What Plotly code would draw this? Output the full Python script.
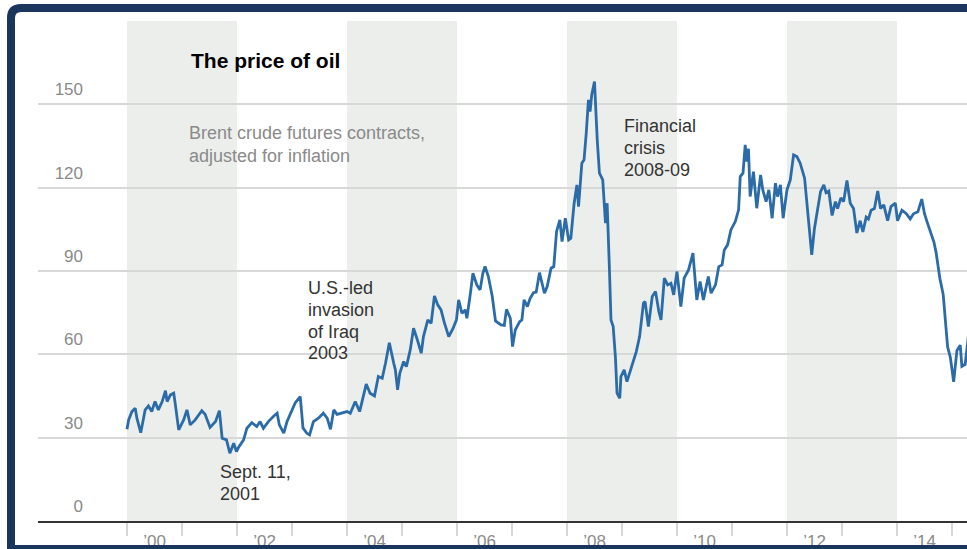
import plotly.graph_objects as go

# ---------------- data ----------------
years = [
    2000.00, 2000.03, 2000.09, 2000.15, 2000.18, 2000.25, 2000.33, 2000.39, 2000.45, 2000.51,
    2000.57, 2000.64, 2000.70, 2000.73, 2000.79, 2000.85, 2000.88, 2000.94, 2001.03, 2001.09,
    2001.15, 2001.24, 2001.36, 2001.42, 2001.51, 2001.61, 2001.68, 2001.73, 2001.81, 2001.87,
    2001.94, 2001.99, 2002.03, 2002.12, 2002.18, 2002.27, 2002.36, 2002.42, 2002.48, 2002.57,
    2002.67, 2002.73, 2002.77, 2002.85, 2002.91, 2003.00, 2003.06, 2003.15, 2003.20, 2003.27,
    2003.32, 2003.39, 2003.48, 2003.57, 2003.64, 2003.70, 2003.76, 2003.82, 2003.91, 2004.00,
    2004.06, 2004.15, 2004.23, 2004.27, 2004.35, 2004.42, 2004.50, 2004.57, 2004.64, 2004.70,
    2004.77, 2004.85, 2004.88, 2004.92, 2004.96, 2005.03, 2005.08, 2005.15, 2005.21, 2005.27,
    2005.35, 2005.39, 2005.47, 2005.53, 2005.59, 2005.65, 2005.71, 2005.77, 2005.85, 2005.93,
    2005.99, 2006.03, 2006.09, 2006.15, 2006.18, 2006.24, 2006.29, 2006.36, 2006.42, 2006.47,
    2006.51, 2006.57, 2006.64, 2006.70, 2006.80, 2006.86, 2006.90, 2006.97, 2007.01, 2007.06,
    2007.14, 2007.18, 2007.22, 2007.28, 2007.33, 2007.39, 2007.44, 2007.50, 2007.59, 2007.64,
    2007.71, 2007.76, 2007.81, 2007.87, 2007.91, 2007.97, 2008.03, 2008.07, 2008.13, 2008.18,
    2008.21, 2008.27, 2008.31, 2008.35, 2008.39, 2008.42, 2008.45, 2008.50, 2008.52, 2008.55,
    2008.59, 2008.65, 2008.70, 2008.73, 2008.77, 2008.80, 2008.84, 2008.88, 2008.91, 2008.96,
    2008.98, 2009.04, 2009.09, 2009.14, 2009.20, 2009.26, 2009.32, 2009.39, 2009.42, 2009.48,
    2009.55, 2009.61, 2009.67, 2009.71, 2009.77, 2009.83, 2009.89, 2009.94, 2010.00, 2010.07,
    2010.13, 2010.21, 2010.29, 2010.36, 2010.42, 2010.48, 2010.57, 2010.62, 2010.70, 2010.76,
    2010.82, 2010.86, 2010.92, 2010.98, 2011.06, 2011.12, 2011.15, 2011.20, 2011.24, 2011.27,
    2011.30, 2011.33, 2011.39, 2011.45, 2011.52, 2011.56, 2011.62, 2011.67, 2011.73, 2011.79,
    2011.83, 2011.88, 2011.93, 2012.00, 2012.06, 2012.12, 2012.18, 2012.24, 2012.32, 2012.38,
    2012.42, 2012.45, 2012.50, 2012.55, 2012.61, 2012.67, 2012.71, 2012.76, 2012.82, 2012.88,
    2012.92, 2012.98, 2013.03, 2013.09, 2013.15, 2013.21, 2013.27, 2013.33, 2013.38, 2013.44,
    2013.48, 2013.53, 2013.59, 2013.65, 2013.70, 2013.76, 2013.83, 2013.89, 2013.97, 2014.01,
    2014.09, 2014.17, 2014.24, 2014.30, 2014.38, 2014.45, 2014.50, 2014.55, 2014.61, 2014.67,
    2014.71, 2014.78, 2014.84, 2014.88, 2014.92, 2014.97, 2015.03, 2015.09, 2015.15, 2015.18,
    2015.24, 2015.30,
]
price = [
    33.0, 36.4, 39.4, 40.6, 37.0, 31.8, 40.0, 41.4, 39.4, 43.0,
    40.0, 43.0, 46.9, 43.0, 45.4, 46.0, 41.8, 32.8, 36.4, 40.0,
    34.6, 36.4, 39.7, 38.4, 33.7, 35.8, 39.7, 29.8, 29.2, 24.4,
    28.0, 25.0, 26.6, 29.2, 33.4, 35.4, 34.0, 35.8, 33.4, 35.8,
    37.8, 38.8, 34.6, 31.6, 35.8, 40.0, 42.6, 44.8, 33.5, 31.6,
    31.0, 35.8, 37.0, 38.8, 37.0, 33.0, 40.0, 38.4, 39.0, 39.4,
    38.8, 43.0, 39.4, 42.4, 49.3, 46.0, 45.0, 52.0, 51.4, 56.8,
    64.2, 56.8, 54.4, 47.2, 53.2, 57.4, 55.6, 61.6, 69.4, 65.8,
    60.4, 66.4, 72.4, 71.2, 81.0, 77.8, 76.0, 71.4, 66.4, 69.4,
    72.4, 79.6, 74.8, 76.0, 73.0, 81.4, 89.2, 85.0, 83.2, 89.2,
    91.6, 88.0, 81.0, 72.0, 70.6, 70.4, 76.2, 73.0, 62.8, 68.8,
    71.8, 72.4, 79.6, 77.2, 80.2, 82.2, 82.4, 89.4, 82.0, 84.4,
    91.0, 91.6, 104.2, 108.4, 100.6, 109.0, 101.2, 101.8, 114.4, 121.0,
    113.2, 128.8, 130.0, 139.6, 151.6, 147.4, 153.5, 158.2, 149.0, 137.2,
    125.2, 122.8, 107.2, 114.4, 91.6, 72.4, 70.0, 59.2, 46.0, 44.2,
    52.0, 54.4, 50.2, 53.2, 56.8, 61.0, 66.4, 78.4, 79.0, 70.0,
    80.8, 82.6, 75.4, 72.4, 87.4, 85.0, 85.6, 81.4, 89.8, 77.2,
    87.4, 90.4, 96.4, 79.6, 86.2, 79.6, 88.0, 82.0, 85.0, 91.6,
    92.2, 97.6, 99.4, 104.8, 107.8, 112.0, 124.0, 125.2, 135.4, 129.4,
    134.0, 116.8, 125.8, 112.6, 124.6, 119.2, 115.0, 119.2, 109.0, 121.6,
    116.8, 121.0, 109.0, 119.2, 122.8, 131.8, 131.2, 128.8, 123.4, 110.8,
    104.8, 95.8, 105.4, 112.0, 118.6, 121.0, 118.2, 118.8, 110.0, 115.0,
    112.5, 116.3, 115.0, 122.6, 114.4, 112.5, 103.7, 108.1, 104.1, 109.4,
    108.7, 111.9, 112.5, 118.8, 112.5, 113.8, 108.1, 113.2, 114.4, 108.1,
    111.9, 110.6, 108.7, 110.6, 111.3, 115.9, 110.6, 107.5, 104.3, 100.5,
    96.8, 87.3, 81.6, 71.5, 62.7, 58.9, 50.1, 61.4, 63.3, 55.7,
    56.4, 67.0,
]

shade_starts = [2000, 2004, 2008, 2012]     # grey two-year bands
shade_len = 2
tick_years = list(range(2000, 2016))         # small tick marks at each Jan 1
label_years = [2000, 2002, 2004, 2006, 2008, 2010, 2012, 2014]
label_text = ["’00", "’02", "’04", "’06", "’08", "’10", "’12", "’14"]
y_ticks = [0, 30, 60, 90, 120, 150]

title_text = "<b>The price of oil</b>"
subtitle_lines = ["Brent crude futures contracts,", "adjusted for inflation"]
unit_text = "$2015 dollars."
notes = [
    (["Sept. 11,", "2001"], 218, 472),
    (["U.S.-led", "invasion", "of Iraq", "2003"], 306, 288),
    (["Financial", "crisis", "2008-09"], 622, 126),
]

# ---------------- layout geometry ----------------
W, H = 967, 549
ML, MR, MT, MB = 38, 0, 21, 28
PW, PH = W - ML - MR, H - MT - MB
X0 = 1998.382
X1 = X0 + PW / 55.0
FONT = "Liberation Sans, Arial, Helvetica, sans-serif"
NAVY = "#1b365d"
LINE_STEP = 21.8


def px(xp):
    return (xp - ML) / PW


def py(yp):
    return (H - MB - yp) / PH


fig = go.Figure()

fig.add_trace(go.Scatter(
    x=years, y=price, mode="lines",
    line=dict(color="#2b6ca8", width=2.8),
    hoverinfo="x+y", showlegend=False,
))

# partially hidden unit label behind the frame
fig.add_trace(go.Scatter(
    x=[X0 + 5 / 55.0], y=[185.0], mode="text", text=[unit_text],
    textposition="middle right", cliponaxis=False,
    textfont=dict(family=FONT, size=17, color="#666"),
    hoverinfo="skip", showlegend=False,
))

shapes = []
for s in shade_starts:
    shapes.append(dict(type="rect", xref="x", yref="paper", x0=s, x1=s + shade_len,
                       y0=0, y1=1, fillcolor="#eceeec", line=dict(width=0), layer="below"))

# navy frame
r = 10
frame = (f"M {px(11)},{py(560)} L {px(11)},{py(8 + r)} "
         f"Q {px(11)},{py(8)} {px(11 + r)},{py(8)} L {px(990)},{py(8)} "
         f"M {px(11)},{py(549)} L {px(990)},{py(549)}")
shapes.append(dict(type="path", xref="paper", yref="paper", path=frame,
                   line=dict(color=NAVY, width=8), layer="above"))


def text_ann(txt, xx, yy, size, color):
    return dict(text=txt, x=px(xx), y=py(yy), xref="paper", yref="paper",
                xanchor="left", yanchor="middle", showarrow=False, align="left",
                font=dict(family=FONT, size=size, color=color))


annotations = [text_ann(title_text, 189, 61, 21, "#000")]
for i, ln in enumerate(subtitle_lines):
    annotations.append(text_ann(ln, 187, 133 + i * 22.5, 18, "#8a8a8a"))
for lines, xx, yy in notes:
    for i, ln in enumerate(lines):
        annotations.append(text_ann(ln, xx, yy + i * LINE_STEP, 18, "#333"))

fig.update_layout(
    template="none",
    width=W, height=H, autosize=False,
    margin=dict(l=ML, r=MR, t=MT, b=MB, pad=0, autoexpand=False),
    paper_bgcolor="white", plot_bgcolor="rgba(0,0,0,0)",
    shapes=shapes, annotations=annotations,
    font=dict(family=FONT),
    showlegend=False,
    xaxis=dict(
        range=[X0, X1], showgrid=False, zeroline=False, automargin=False,
        showline=True, linecolor="#333", linewidth=1.5,
        tickmode="array", tickvals=[y + 0.5 for y in label_years], ticktext=label_text,
        ticks="", tickfont=dict(family=FONT, size=17, color="#8a8a8a"),
        ticklabelstandoff=4,
        minor=dict(tickmode="array", tickvals=tick_years, ticks="outside",
                   ticklen=13, tickwidth=2, tickcolor="#d6d6d6", showgrid=False),
        fixedrange=True,
    ),
    yaxis=dict(
        range=[0, 180], tickmode="array", tickvals=y_ticks + [180],
        ticktext=[str(v) for v in y_ticks] + [""],
        showgrid=True, gridcolor="#d8d8d8", gridwidth=1.5, zeroline=False,
        showline=False, ticks="", anchor="free", position=px(86), automargin=False,
        tickfont=dict(family=FONT, size=17, color="#8a8a8a"),
        ticklabelshift=-15, ticklabelstandoff=3,
        fixedrange=True,
    ),
)

fig.write_html(
    "out.html",
    config={"displayModeBar": False},
    post_script="document.body.style.margin='0';document.body.style.overflow='hidden';",
)
